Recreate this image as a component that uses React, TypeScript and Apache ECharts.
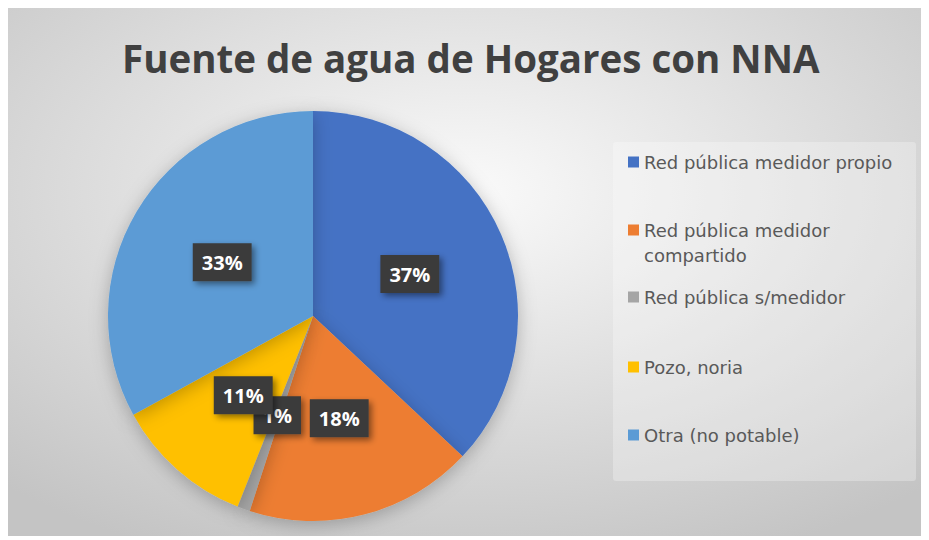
import React, { useEffect, useRef } from "react";
import * as echarts from "echarts";

const titleText = "Fuente de agua de Hogares con NNA";
const categories = [
  "Red pública medidor propio",
  "Red pública medidor compartido",
  "Red pública s/medidor",
  "Pozo, noria",
  "Otra (no potable)",
];
const legendLabels = [
  "Red pública medidor propio",
  "\nRed pública medidor\ncompartido",
  "Red pública s/medidor",
  "Pozo, noria",
  "Otra (no potable)",
];
const values = [37, 18, 1, 11, 33];
const colors = ["#4472C4", "#ED7D31", "#A5A5A5", "#FFC000", "#5B9BD5"];
const legendCenters = [154, 222, 289, 359, 427];

export default function App() {
  const ref = useRef<HTMLDivElement>(null);
  useEffect(() => {
    if (!ref.current) return;
    const chart = echarts.init(ref.current, undefined, { renderer: "svg" });
    const font = "'Open Sans', 'DejaVu Sans', sans-serif";
    const legendFont = "'DejaVu Sans', sans-serif";
    const legends = categories.map((name, i) => {
      const multi = legendLabels[i].split("\n").length;
      const lh = 25;
      return {
        data: [name],
        left: 620,
        top: legendCenters[i] - (multi * lh) / 2,
        padding: 0,
        itemWidth: 11,
        itemHeight: 11,
        icon: "rect",
        selectedMode: false,
        formatter: () => legendLabels[i],
        textStyle: { color: "#595959", fontSize: 18, fontFamily: legendFont, lineHeight: lh },
      };
    });
    chart.setOption({
      animation: false,
      backgroundColor: {
        type: "radial",
        x: 0.5,
        y: 0.35,
        r: 0.75,
        colorStops: [
          { offset: 0, color: "#fafafa" },
          { offset: 1, color: "#c4c4c4" },
        ],
      },
      title: {
        text: titleText,
        left: 109,
        top: 25,
        textStyle: { color: "#404040", fontSize: 38.5, fontWeight: "bold", fontFamily: font },
      },
      graphic: [
        {
          type: "rect",
          shape: { x: 605, y: 134, width: 303, height: 339, r: 3 },
          style: { fill: "rgba(255,255,255,0.28)" },
          z: -1,
        },
      ],
      legend: legends,
      series: [
        {
          type: "pie",
          center: [305, 308],
          radius: 205,
          startAngle: 90,
          clockwise: true,
          percentPrecision: 0,
          avoidLabelOverlap: false,
          minShowLabelAngle: 0,
          labelLayout: { hideOverlap: false },
          data: categories.map((name, i) => ({ name, value: values[i], itemStyle: { color: colors[i] } })),
          itemStyle: {
            shadowBlur: 18,
            shadowColor: "rgba(0,0,0,0.25)",
            shadowOffsetY: 4,
          },
          label: {
            show: true,
            position: "inside",
            formatter: "{d}%",
            color: "#ffffff",
            fontSize: 20,
            lineHeight: 24,
            fontWeight: "bold",
            fontFamily: font,
            backgroundColor: "#3b3b3b",
            padding: [7, 9, 7, 9],
            shadowBlur: 6,
            shadowColor: "rgba(0,0,0,0.45)",
            shadowOffsetX: 3,
            shadowOffsetY: 3,
          },
          labelLine: { show: false },
          emphasis: { disabled: true },
        },
      ],
    });
    return () => chart.dispose();
  }, []);
  return <div ref={ref} style={{ width: 916, height: 528 }} />;
}
